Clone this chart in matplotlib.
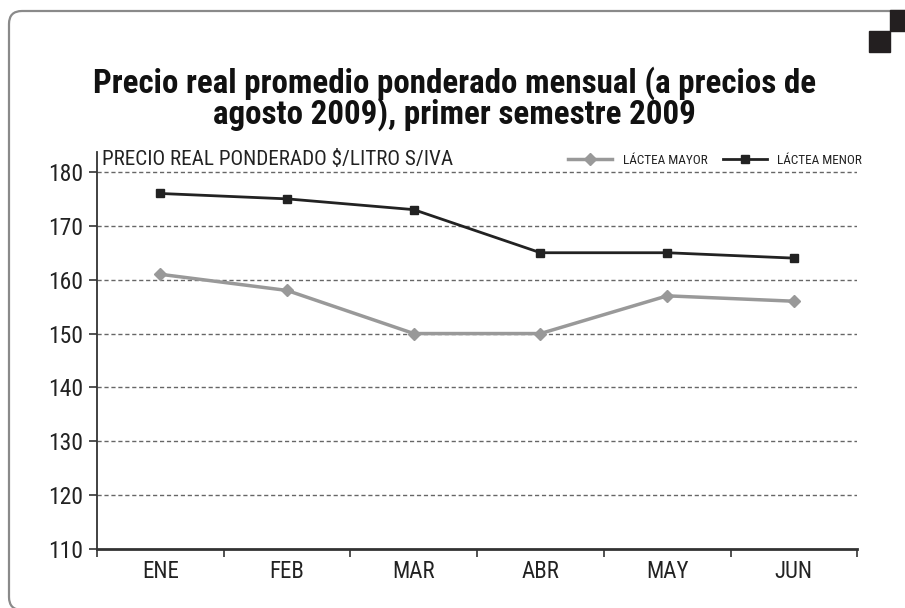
import matplotlib
matplotlib.use("Agg")
import matplotlib.pyplot as plt
from matplotlib import font_manager
from matplotlib.patches import FancyBboxPatch, Rectangle
from matplotlib.transforms import IdentityTransform

# data
meses = ["ENE", "FEB", "MAR", "ABR", "MAY", "JUN"]
lactea_mayor = [161, 158, 150, 150, 157, 156]
lactea_menor = [176, 175, 173, 165, 165, 164]
yticks = [110, 120, 130, 140, 150, 160, 170, 180]

titulo = "Precio real promedio ponderado mensual (a precios de\nagosto 2009), primer semestre 2009"
etiqueta_y = "PRECIO REAL PONDERADO $/LITRO S/IVA"

# pick a narrow font if there is one
nombres = set(f.name for f in font_manager.fontManager.ttflist)
fuente = "Liberation Sans"
for cand in ["Roboto Condensed", "Liberation Sans Narrow", "DejaVu Sans Condensed"]:
    if cand in nombres:
        fuente = cand
        break
plt.rcParams["font.family"] = [fuente, "DejaVu Sans"]

fig = plt.figure(figsize=(9.05, 6.08), dpi=100)
ax = fig.add_axes([0.1072, 0.097, 0.840, 0.653])

x = list(range(len(meses)))
ax.plot(x, lactea_mayor, color="#999999", lw=2.5, marker="D", markersize=6,
        label="LÁCTEA MAYOR", zorder=3)
ax.plot(x, lactea_menor, color="#222222", lw=2, marker="s", markersize=6,
        label="LÁCTEA MENOR", zorder=3)

ax.set_xlim(-0.5, 5.5)
ax.set_ylim(110, 183.7)
ax.set_yticks(yticks)
ax.set_yticklabels([str(v) for v in yticks], fontsize=17, color="#222222")
ax.set_xticks(x)
ax.set_xticklabels(meses, fontsize=16.5, color="#222222")
ax.tick_params(axis="x", length=0, pad=8)
ax.set_xticks([i - 0.5 for i in range(len(meses) + 1)], minor=True)
ax.tick_params(axis="x", which="minor", length=6, width=1.2, color="#333333", direction="out")
ax.tick_params(axis="y", length=6, width=1.2, color="#333333", pad=4)

for v in yticks[1:]:
    ax.axhline(v, color="#666666", lw=1, ls=(0, (3, 2)), zorder=1)

for s in ["top", "right"]:
    ax.spines[s].set_visible(False)
ax.spines["left"].set_color("#333333")
ax.spines["left"].set_linewidth(1.3)
ax.spines["bottom"].set_color("#333333")
ax.spines["bottom"].set_linewidth(2)

ax.text(0.007, 1.005, etiqueta_y, transform=ax.transAxes, fontsize=15.2,
        color="#222222", va="top", ha="left")

ax.legend(loc="upper right", bbox_to_anchor=(1.022, 1.025), ncol=2, frameon=False,
          fontsize=9.5, handlelength=3.3, columnspacing=1.2, handletextpad=0.8,
          labelcolor="#222222")

fig.text(0.502, 0.838, titulo, ha="center", va="center", fontsize=23.8,
         fontweight="bold", color="#111111", linespacing=0.92)

# frame and corner squares
marco = FancyBboxPatch((9, -2), 960, 599, boxstyle="round,pad=0,rounding_size=13",
                       transform=IdentityTransform(), fill=False,
                       edgecolor="#8a8a8a", lw=1.6)
fig.patches.append(marco)
fig.patches.append(Rectangle((890, 577), 22, 21, transform=IdentityTransform(),
                             color="#231f20"))
fig.patches.append(Rectangle((869, 556), 21, 21, transform=IdentityTransform(),
                             color="#231f20"))

fig.savefig("out.png", dpi=100)
